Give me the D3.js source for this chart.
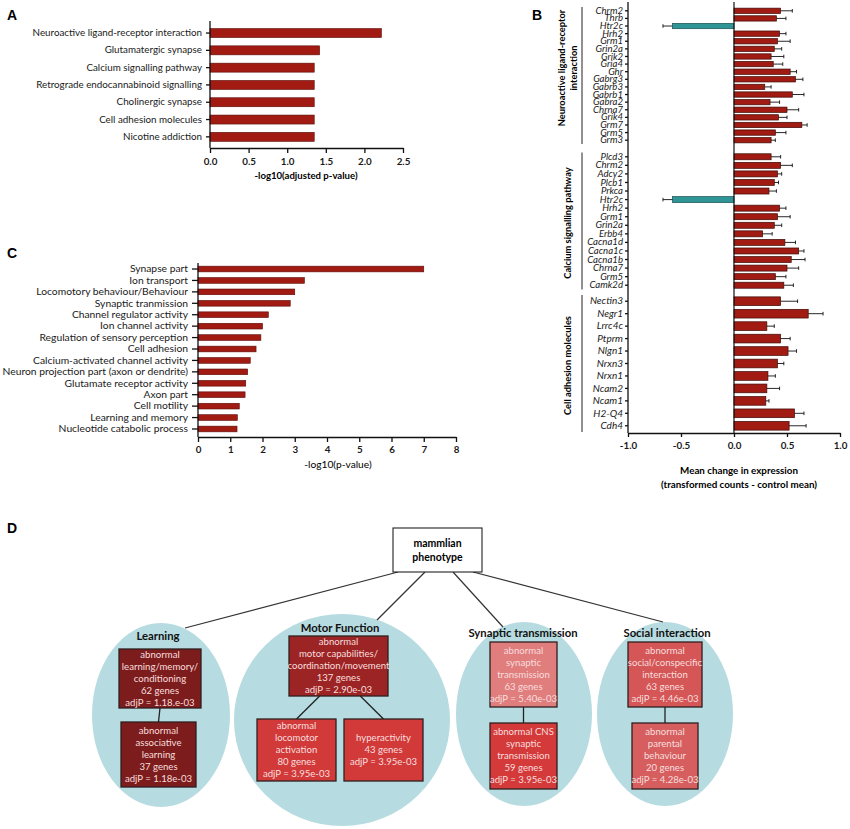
<!DOCTYPE html>
<html lang="en">
<head>
  <meta charset="UTF-8">
  <title>Enrichment figure</title>
  <style>
    body { margin: 0; background: #fff; }
    svg { display: block; }
  </style>
</head>
<body>
  <svg id="fig"></svg>

  <script src="https://d3js.org/d3.v7.min.js"></script>
  <script>
    // ---- panel A: KEGG pathways
    const keggTerms = ["Neuroactive ligand-receptor interaction", "Glutamatergic synapse", "Calcium signalling pathway",
      "Retrograde endocannabinoid signalling", "Cholinergic synapse", "Cell adhesion molecules", "Nicotine addiction"];
    const keggValues = [2.22, 1.42, 1.35, 1.35, 1.35, 1.35, 1.35];
    const keggTicks = [0, 0.5, 1, 1.5, 2, 2.5];

    // ---- panel C: GO terms
    const goTerms = ["Synapse part", "Ion transport", "Locomotory behaviour/Behaviour", "Synaptic tranmission",
      "Channel regulator activity", "Ion channel activity", "Regulation of sensory perception", "Cell adhesion",
      "Calcium-activated channel activity", "Neuron projection part (axon or dendrite)", "Glutamate receptor activity",
      "Axon part", "Cell motility", "Learning and memory", "Nucleotide catabolic process"];
    const goValues = [7.0, 3.3, 3.0, 2.86, 2.18, 2.0, 1.95, 1.8, 1.62, 1.54, 1.48, 1.46, 1.28, 1.22, 1.21];
    const goTicks = [0, 1, 2, 3, 4, 5, 6, 7, 8];

    // ---- panel B: gene expression changes (mean, SEM)
    const neuroGenes = ["Chrm2", "Thrb", "Htr2c", "Hrh2", "Grm1", "Grin2a", "Grik2", "Gria4", "Ghr", "Gabrg3",
      "Gabrb3", "Gabrb1", "Gabra2", "Chrna7", "Grik4", "Grm7", "Grm5", "Grm3"];
    const neuroMean = [0.44, 0.40, -0.58, 0.43, 0.41, 0.38, 0.35, 0.37, 0.53, 0.58, 0.29, 0.55, 0.34, 0.50, 0.42, 0.64, 0.39, 0.35];
    const neuroSem = [0.11, 0.09, 0.09, 0.06, 0.12, 0.07, 0.12, 0.09, 0.06, 0.07, 0.06, 0.11, 0.09, 0.11, 0.08, 0.05, 0.10, 0.04];

    const calciumGenes = ["Plcd3", "Chrm2", "Adcy2", "Plcb1", "Prkca", "Htr2c", "Hrh2", "Grm1", "Grin2a", "Erbb4",
      "Cacna1d", "Cacna1c", "Cacna1b", "Chrna7", "Grm5", "Camk2d"];
    const calciumMean = [0.35, 0.44, 0.41, 0.38, 0.33, -0.58, 0.43, 0.41, 0.38, 0.27, 0.48, 0.61, 0.54, 0.50, 0.39, 0.47];
    const calciumSem = [0.09, 0.11, 0.04, 0.04, 0.07, 0.09, 0.06, 0.12, 0.07, 0.09, 0.10, 0.05, 0.13, 0.11, 0.10, 0.09];

    const adhesionGenes = ["Nectin3", "Negr1", "Lrrc4c", "Ptprm", "Nlgn1", "Nrxn3", "Nrxn1", "Ncam2", "Ncam1", "H2-Q4", "Cdh4"];
    const adhesionMean = [0.44, 0.70, 0.31, 0.44, 0.51, 0.41, 0.32, 0.31, 0.30, 0.57, 0.52];
    const adhesionSem = [0.16, 0.14, 0.07, 0.09, 0.08, 0.06, 0.07, 0.12, 0.03, 0.09, 0.16];

    const exprTicks = [-1, -0.5, 0, 0.5, 1];

    // ---- panel D: mammalian phenotype tree
    const phenoGroups = ["Learning", "Motor Function", "Synaptic transmission", "Social interaction"];
    const phenoTerms = [
      ["abnormal", "learning/memory/", "conditioning"],
      ["abnormal", "associative", "learning"],
      ["abnormal", "motor capabilities/", "coordination/movement"],
      ["abnormal", "locomotor", "activation"],
      ["hyperactivity"],
      ["abnormal", "synaptic", "transmission"],
      ["abnormal CNS", "synaptic", "transmission"],
      ["abnormal", "social/conspecific", "interaction"],
      ["abnormal", "parental", "behaviour"]
    ];
    const phenoGenes = [62, 37, 137, 80, 43, 63, 59, 63, 20];
    const phenoAdjP = ["1.18.e-03", "1.18e-03", "2.90e-03", "3.95e-03", "3.95e-03", "5.40e-03", "3.95e-03", "4.46e-03", "4.28e-03"];
    const phenoParent = [-1, 0, -1, 2, 2, -1, 5, -1, 7];

    const FONT = "Lato, 'Open Sans', sans-serif";
    const RED = "#a11b13";

    const svg = d3.select("#fig").attr("width", 850).attr("height", 829);

    function styleAxis(g, size, weight, style) {
      g.selectAll("text")
        .attr("font-family", FONT).attr("font-size", size)
        .attr("font-weight", weight).attr("font-style", style || "normal")
        .attr("fill", "#1a1a1a");
      g.selectAll("line, path").attr("stroke", "#111").attr("stroke-width", 1.3);
    }

    function panelLetter(txt, x, y) {
      svg.append("text").attr("x", x).attr("y", y).text(txt)
        .attr("font-family", "'Liberation Sans', Arial, sans-serif")
        .attr("font-weight", "bold").attr("font-size", 14);
    }

    // horizontal bar chart used by A and C
    function barPanel(terms, values, ticks, opt) {
      const g = svg.append("g");
      const x = d3.scaleLinear().domain(opt.domain).range(opt.xr);
      const y = d3.scaleBand().domain(terms).range(opt.yr)
        .paddingInner(opt.pad).paddingOuter(opt.pad / 2);

      g.selectAll("rect").data(terms.map((t, i) => ({ t, v: values[i] }))).join("rect")
        .attr("x", x(0)).attr("y", d => y(d.t))
        .attr("width", d => x(d.v) - x(0)).attr("height", y.bandwidth())
        .attr("fill", RED).attr("stroke", "#5a0d08").attr("stroke-width", 0.6);

      g.append("g").attr("transform", `translate(${x(0)},0)`)
        .call(d3.axisLeft(y).tickSize(opt.ytick).tickPadding(4).tickSizeOuter(0))
        .call(a => a.select(".domain").remove())
        .call(a => styleAxis(a, opt.labelSize, "normal"));

      g.append("line").attr("x1", x(0)).attr("x2", x(0))
        .attr("y1", opt.yTop).attr("y2", opt.axisY)
        .attr("stroke", "#111").attr("stroke-width", 1.3);

      g.append("g").attr("transform", `translate(0,${opt.axisY})`)
        .call(d3.axisBottom(x).tickValues(ticks).tickFormat(opt.fmt).tickSize(5).tickPadding(opt.xpad).tickSizeOuter(0))
        .call(a => styleAxis(a, 9.8, "bold"));

      g.append("text").attr("x", opt.title[1]).attr("y", opt.title[2])
        .attr("text-anchor", "middle").attr("font-family", FONT)
        .attr("font-size", opt.title[3]).attr("font-weight", opt.title[4])
        .text(opt.title[0]);
    }

    // ---------- A
    panelLetter("A", 7, 20);
    barPanel(keggTerms, keggValues, keggTicks, {
      domain: [0, 2.5], xr: [210, 403], yr: [24.4, 145.5], pad: 0.48, ytick: 4,
      yTop: 21, axisY: 148, labelSize: 9.8, xpad: 5, fmt: d => d.toFixed(1),
      title: ["-log10(adjusted p-value)", 306, 179, 9.6, "bold"]
    });

    // ---------- C
    panelLetter("C", 7, 258);
    barPanel(goTerms, goValues, goTicks, {
      domain: [0, 8], xr: [198, 456], yr: [263.3, 434.7], pad: 0.5, ytick: 6,
      yTop: 263, axisY: 437, labelSize: 10.3, xpad: 4, fmt: d => d,
      title: ["-log10(p-value)", 338, 468, 10.2, "normal"]
    });

    // ---------- B
    panelLetter("B", 532, 20);
    const gB = svg.append("g");
    const xB = d3.scaleLinear().domain([-1, 1]).range([628, 840]);
    const bGroups = [
      { label: ["Neuroactive ligand-receptor", "interaction"], genes: neuroGenes, mean: neuroMean, sem: neuroSem },
      { label: ["Calcium signalling pathway"], genes: calciumGenes, mean: calciumMean, sem: calciumSem },
      { label: ["Cell adhesion molecules"], genes: adhesionGenes, mean: adhesionMean, sem: adhesionSem }
    ];
    const bTops = [7, 152.5, 295], bHeight = 137;
    const bAxisY = 433;

    bGroups.forEach((grp, gi) => {
      const top = bTops[gi];
      const y = d3.scaleBand().domain(d3.range(grp.genes.length))
        .range([top, top + bHeight]).paddingInner(0.3).paddingOuter(0.15);
      const rows = grp.genes.map((gname, i) => ({ i, m: grp.mean[i], s: grp.sem[i] }));
      const g = gB.append("g");

      g.selectAll("rect").data(rows).join("rect")
        .attr("x", d => xB(Math.min(0, d.m))).attr("y", d => y(d.i))
        .attr("width", d => Math.abs(xB(d.m) - xB(0))).attr("height", y.bandwidth())
        .attr("fill", d => d.m < 0 ? "#2e9496" : RED)
        .attr("stroke", d => d.m < 0 ? "#1b4f50" : "#3d0a06").attr("stroke-width", 0.7);

      const err = g.selectAll("g.err").data(rows).join("g").attr("class", "err");
      const end = d => xB(d.m + Math.sign(d.m) * d.s);
      const cy = d => y(d.i) + y.bandwidth() / 2;
      err.append("line").attr("x1", d => xB(d.m)).attr("x2", end)
        .attr("y1", cy).attr("y2", cy).attr("stroke", "#111").attr("stroke-width", 0.9);
      err.append("line").attr("x1", end).attr("x2", end)
        .attr("y1", d => cy(d) - 1.8).attr("y2", d => cy(d) + 1.8)
        .attr("stroke", "#111").attr("stroke-width", 0.9);

      g.append("g").attr("transform", `translate(${xB(-1)},0)`)
        .call(d3.axisLeft(y).tickSize(3).tickPadding(2).tickSizeOuter(0).tickFormat(i => grp.genes[i]))
        .call(a => a.select(".domain").remove())
        .call(a => styleAxis(a, gi === 2 ? 10 : 9.6, "normal", "italic"));

      // group bracket and label
      g.append("line").attr("x1", 582).attr("x2", 582)
        .attr("y1", top).attr("y2", top + bHeight)
        .attr("stroke", "#222").attr("stroke-width", 1);
      const lab = g.append("text")
        .attr("transform", `translate(${grp.label.length > 1 ? 562 : 568},${gi === 0 ? 68 : top + bHeight / 2 + 2}) rotate(-90)`)
        .attr("text-anchor", "middle").attr("font-family", FONT)
        .attr("font-size", 9.3).attr("font-weight", "bold").attr("dy", "0.35em");
      grp.label.forEach((t, k) => lab.append("tspan").attr("x", 0).attr("dy", k === 0 ? "0.35em" : "1.3em").text(t));
    });

    gB.append("line").attr("x1", xB(-1)).attr("x2", xB(-1)).attr("y1", 2).attr("y2", bAxisY)
      .attr("stroke", "#111").attr("stroke-width", 1.3);
    gB.append("line").attr("x1", xB(0)).attr("x2", xB(0)).attr("y1", 2).attr("y2", bAxisY)
      .attr("stroke", "#111").attr("stroke-width", 1.2);
    gB.append("g").attr("transform", `translate(0,${bAxisY})`)
      .call(d3.axisBottom(xB).tickValues(exprTicks).tickFormat(d => d.toFixed(1)).tickSize(4).tickPadding(5).tickSizeOuter(0))
      .call(a => styleAxis(a, 9.8, "bold"));
    const bTitle = gB.append("text").attr("text-anchor", "middle")
      .attr("font-family", FONT).attr("font-size", 9.8).attr("font-weight", "bold");
    bTitle.append("tspan").attr("x", 739).attr("y", 474).text("Mean change in expression");
    bTitle.append("tspan").attr("x", 739).attr("y", 488).text("(transformed counts - control mean)");

    // ---------- D
    panelLetter("D", 7, 533);
    const gD = svg.append("g");

    // diagram layout
    const ellipses = [
      { cx: 161, cy: 715, rx: 69, ry: 92, tx: 158, ty: 640 },
      { cx: 342, cy: 720, rx: 108, ry: 106, tx: 340, ty: 632 },
      { cx: 524, cy: 714, rx: 68, ry: 92, tx: 523, ty: 637 },
      { cx: 665, cy: 714, rx: 68, ry: 92, tx: 667, ty: 637 }
    ];
    const boxes = [
      { x: 119, y: 649, w: 82, h: 59, fill: "#7d1c1c" },
      { x: 121, y: 722, w: 75, h: 65, fill: "#7d1c1c" },
      { x: 289, y: 636, w: 99, h: 60, fill: "#9d2424" },
      { x: 257, y: 719, w: 79, h: 62, fill: "#d23a3a" },
      { x: 344, y: 719, w: 79, h: 62, fill: "#d23a3a" },
      { x: 490, y: 642, w: 67, h: 65, fill: "#e07d7d" },
      { x: 490, y: 723, w: 67, h: 66, fill: "#d43a3a" },
      { x: 628, y: 642, w: 74, h: 65, fill: "#d55656" },
      { x: 632, y: 723, w: 66, h: 66, fill: "#d65e5e" }
    ];
    const root = { x: 393, y: 528, w: 89, h: 44 };
    const rootLinks = [[398, 185, 628], [425, 377, 620], [453, 503, 627], [473, 663, 622]];

    gD.selectAll("ellipse").data(ellipses).join("ellipse")
      .attr("cx", d => d.cx).attr("cy", d => d.cy).attr("rx", d => d.rx).attr("ry", d => d.ry)
      .attr("fill", "#b6dbe0");

    gD.selectAll("line.root").data(rootLinks).join("line").attr("class", "root")
      .attr("x1", d => d[0]).attr("y1", root.y + root.h).attr("x2", d => d[1]).attr("y2", d => d[2])
      .attr("stroke", "#333").attr("stroke-width", 1.2);

    gD.selectAll("text.grp").data(phenoGroups).join("text").attr("class", "grp")
      .attr("x", (d, i) => ellipses[i].tx).attr("y", (d, i) => ellipses[i].ty)
      .attr("text-anchor", "middle").attr("font-family", FONT)
      .attr("font-size", 11.3).attr("font-weight", "bold").attr("fill", "#111")
      .text(d => d);

    // parent-child connectors
    phenoParent.forEach((p, i) => {
      if (p < 0) return;
      const a = boxes[p], b = boxes[i];
      const siblings = phenoParent.filter(q => q === p).length;
      let x1 = a.x + a.w / 2, x2 = b.x + b.w / 2;
      if (siblings > 1) x1 = b.x + b.w / 2 < a.x + a.w / 2 ? a.x + a.w * 0.31 : a.x + a.w * 0.72;
      gD.append("line").attr("x1", x1).attr("y1", a.y + a.h).attr("x2", x2).attr("y2", b.y)
        .attr("stroke", "#222").attr("stroke-width", 1.3);
    });

    const boxG = gD.selectAll("g.box").data(boxes).join("g").attr("class", "box");
    boxG.append("rect").attr("x", d => d.x).attr("y", d => d.y).attr("width", d => d.w).attr("height", d => d.h)
      .attr("fill", d => d.fill).attr("stroke", "#2e2020").attr("stroke-width", 1.3);
    boxG.each(function (d, i) {
      const lines = phenoTerms[i].concat([phenoGenes[i] + " genes", "adjP = " + phenoAdjP[i]]);
      const cy = d.y + d.h / 2, step = 12;
      d3.select(this).selectAll("text").data(lines).join("text")
        .attr("x", d.x + d.w / 2).attr("y", (t, k) => cy + (k - (lines.length - 1) / 2) * step)
        .attr("dy", "0.35em").attr("text-anchor", "middle")
        .attr("font-family", FONT).attr("font-size", 9.6).attr("fill", "#f6dede")
        .text(t => t);
    });

    gD.append("rect").attr("x", root.x).attr("y", root.y).attr("width", root.w).attr("height", root.h)
      .attr("fill", "#fff").attr("stroke", "#222").attr("stroke-width", 1.1);
    gD.selectAll("text.root").data(["mammlian", "phenotype"]).join("text").attr("class", "root")
      .attr("x", root.x + root.w / 2).attr("y", (d, k) => root.y + 15 + k * 14).attr("dy", "0.35em")
      .attr("text-anchor", "middle").attr("font-family", FONT)
      .attr("font-size", 10.5).attr("font-weight", "bold").text(d => d);
  </script>
</body>
</html>
